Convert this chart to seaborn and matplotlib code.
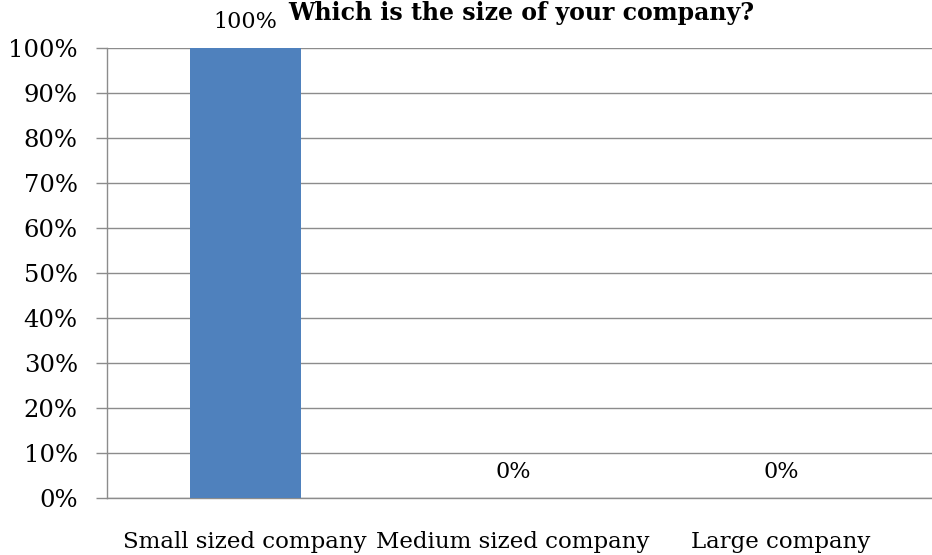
import matplotlib
matplotlib.use("Agg")
import matplotlib.pyplot as plt
import seaborn as sns
import pandas as pd

categories = ["Small sized company", "Medium sized company", "Large company"]
shares = [100, 0, 0]
y_ticks = [0, 10, 20, 30, 40, 50, 60, 70, 80, 90, 100]
title = "Which is the size of your company?"

sns.set_theme(style="white")
plt.rcParams["font.family"] = ["DejaVu Serif"]

df = pd.DataFrame({"category": categories, "share": shares})

fig = plt.figure(figsize=(9.32, 5.55), dpi=100)
ax = fig.add_axes([107 / 932, 57 / 555, 825 / 932, 450 / 555])

sns.barplot(data=df, x="category", y="share", color="#4F81BD",
            width=0.414, saturation=1, linewidth=0, ax=ax, zorder=3)

ax.set_ylim(0, 100)
ax.set_xlim(-0.515, 2.563)
ax.set_yticks(y_ticks)
ax.set_yticklabels([f"{v}%" for v in y_ticks], fontsize=17.5)
ax.yaxis.grid(True, color="#8C8C8C", linewidth=1.0, zorder=0)
ax.xaxis.grid(False)
ax.set_xlabel("")
ax.set_ylabel("")

for side in ("top", "right"):
    ax.spines[side].set_visible(False)
for side in ("left", "bottom"):
    ax.spines[side].set_color("#8C8C8C")
    ax.spines[side].set_linewidth(1.0)

ax.tick_params(axis="y", which="major", direction="out", length=8,
               width=1.0, color="#8C8C8C", left=True, pad=13, labelcolor="black")
ax.tick_params(axis="x", length=0, pad=24, labelsize=16.5, labelcolor="black")

for i, v in enumerate(shares):
    ax.annotate(f"{v}%", xy=(i, v), xytext=(0, 18.5), textcoords="offset points",
                ha="center", va="center", fontsize=16, color="black",
                annotation_clip=False)

fig.text(521 / 932, 1 - 1 / 555, title, ha="center", va="top",
         fontsize=17, fontweight="bold", color="black")

fig.savefig("out.png", dpi=100)
